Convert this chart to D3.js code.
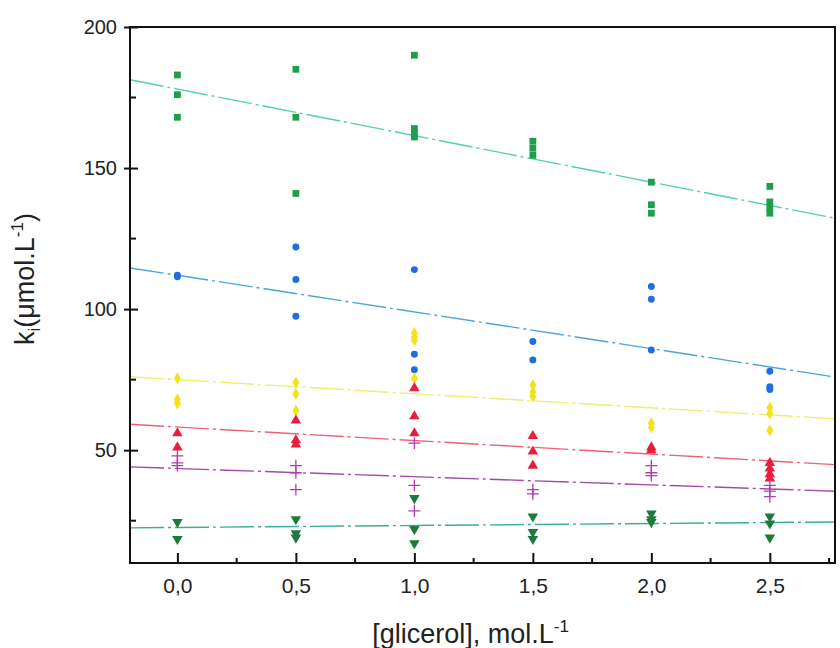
<!DOCTYPE html>
<html>
<head>
<meta charset="utf-8">
<script src="https://cdn.jsdelivr.net/npm/d3@7"></script>
<style>
  body { margin: 0; background: #fff; }
  svg { display: block; font-family: "Liberation Sans", Arial, sans-serif; }
</style>
</head>
<body>
<div id="chart"></div>
<script>
// glycerol concentrations (mol/L)
const xLevels = [0, 0.5, 1.0, 1.5, 2.0, 2.5];
const xTicks = [0, 0.5, 1.0, 1.5, 2.0, 2.5];
const xTickLabels = ["0,0", "0,5", "1,0", "1,5", "2,0", "2,5"];
const yTicks = [50, 100, 150, 200];

// ki values per glycerol level, one list per series
const squareValues = [[183, 176, 168], [185, 168, 141], [190, 164, 162, 161], [159.5, 157, 154.5], [145, 137, 134], [143.5, 138, 136, 134]];
const circleValues = [[112, 111.5], [122, 110.5, 97.5], [114, 84, 78.5], [88.5, 82], [108, 103.5, 85.5], [78, 72.5, 71.5]];
const diamondValues = [[75.5, 68, 66.5], [74, 70, 64], [91.5, 90, 89, 75.5], [73, 70.5, 69], [59.5, 58], [65, 63, 57]];
const triangleValues = [[56, 51], [60.5, 53.5, 52], [72, 62, 56], [55, 49.5, 44.5], [51, 50], [45.5, 43.5, 41.5, 40]];
const plusValues = [[48, 45.5, 44.5], [44.5, 42, 36], [52.5, 37.5, 28.5], [36, 34.5], [44.5, 42, 41], [37.5, 35.5, 33.5]];
const downValues = [[24.5, 18.5], [25.5, 20.5, 19], [33, 22, 17], [26.5, 21, 18.5], [27.5, 25.5, 24.5], [26.5, 24, 19]];

// fitted lines: [intercept, slope]
const squareFit = [178, -16.5];
const circleFit = [112, -13];
const diamondFit = [75, -5];
const triangleFit = [58.2, -4.8];
const plusFit = [43.5, -2.9];
const downFit = [22.6, 0.7];

const width = 840, height = 648;
const margin = {top: 27, right: 5, bottom: 85, left: 130};

const x = d3.scaleLinear()
  .domain([-0.2, 2.775])
  .range([margin.left, width - margin.right]);
const y = d3.scaleLinear()
  .domain([10, 200])
  .range([height - margin.bottom, margin.top]);

const svg = d3.select("#chart").append("svg")
  .attr("width", width)
  .attr("height", height);

svg.append("clipPath").attr("id", "plot-clip")
  .append("rect")
  .attr("x", margin.left).attr("y", margin.top)
  .attr("width", width - margin.left - margin.right)
  .attr("height", height - margin.top - margin.bottom);

const series = [
  {values: squareValues, fit: squareFit, type: d3.symbolSquare, size: 46, color: "#1f9e4e", line: "#52d2a6"},
  {values: circleValues, fit: circleFit, type: d3.symbolCircle, size: 38, color: "#1f6ee0", line: "#4aa6da"},
  {values: diamondValues, fit: diamondFit, type: d3.symbolDiamond, size: 42, color: "#f3e21c", line: "#eeee70"},
  {values: triangleValues, fit: triangleFit, type: d3.symbolTriangle, size: 48, color: "#e81e3e", line: "#ee6078"},
  {values: plusValues, fit: plusFit, type: d3.symbolPlus || d3.symbolCross, size: 48, color: "#b03cb0", line: "#a04ca6", stroke: true},
  {values: downValues, fit: downFit, type: d3.symbolTriangle, size: 48, color: "#1e7a3c", line: "#3aae98", rotate: 180}
];

// fit lines
const fitG = svg.append("g").attr("clip-path", "url(#plot-clip)");
const line = d3.line().x(d => x(d[0])).y(d => y(d[1]));
series.forEach(s => {
  const pts = x.domain().map(v => [v, s.fit[0] + s.fit[1] * v]);
  fitG.append("path")
    .datum(pts)
    .attr("fill", "none")
    .attr("stroke", s.line)
    .attr("stroke-width", 1.4)
    .attr("stroke-dasharray", "34,4,3,4")
    .attr("d", line);
});

// markers
const markG = svg.append("g");
series.forEach(s => {
  const pts = [];
  s.values.forEach((vals, i) => vals.forEach(v => pts.push([xLevels[i], v])));
  markG.append("g").selectAll("path")
    .data(pts)
    .join("path")
    .attr("transform", d => `translate(${x(d[0])},${y(d[1])})` + (s.rotate ? ` rotate(${s.rotate})` : ""))
    .attr("d", d3.symbol().type(s.type).size(s.size))
    .attr("fill", s.stroke ? "none" : s.color)
    .attr("stroke", s.stroke ? s.color : "none")
    .attr("stroke-width", 1.3);
});

// frame
svg.append("rect")
  .attr("x", margin.left).attr("y", margin.top)
  .attr("width", width - margin.left - margin.right)
  .attr("height", height - margin.top - margin.bottom)
  .attr("fill", "none")
  .attr("stroke", "#111")
  .attr("stroke-width", 2);

// x axis, ticks pointing inward
const xAxis = svg.append("g")
  .attr("transform", `translate(0,${height - margin.bottom})`)
  .call(d3.axisBottom(x).tickValues(xTicks).tickSize(-10).tickSizeOuter(0)
    .tickFormat((d, i) => xTickLabels[i]));
xAxis.select(".domain").remove();
xAxis.selectAll(".tick line").attr("stroke", "#111").attr("stroke-width", 2);
xAxis.selectAll(".tick text")
  .attr("y", 30)
  .attr("dy", 0)
  .attr("fill", "#222")
  .attr("font-size", 21);

svg.append("g")
  .attr("transform", `translate(0,${height - margin.bottom})`)
  .selectAll("line")
  .data(d3.range(-0.25, 2.76, 0.5).filter(v => v > x.domain()[0]))
  .join("line")
  .attr("x1", d => x(d)).attr("x2", d => x(d))
  .attr("y1", 0).attr("y2", -5)
  .attr("stroke", "#111").attr("stroke-width", 2);

// y axis
const yAxis = svg.append("g")
  .attr("transform", `translate(${margin.left},0)`)
  .call(d3.axisLeft(y).tickValues(yTicks).tickSize(6).tickSizeOuter(0).tickFormat(d3.format("d")));
yAxis.select(".domain").remove();
yAxis.selectAll(".tick line").attr("stroke", "#111").attr("stroke-width", 2).attr("x2", 8).attr("x1", -6);
yAxis.selectAll(".tick text")
  .attr("x", -13)
  .attr("fill", "#222")
  .attr("font-size", 20);

svg.append("g")
  .selectAll("line")
  .data([25, 75, 125, 175])
  .join("line")
  .attr("x1", margin.left).attr("x2", margin.left + 6)
  .attr("y1", d => y(d)).attr("y2", d => y(d))
  .attr("stroke", "#111").attr("stroke-width", 2);

// axis titles
const xTitle = svg.append("text")
  .attr("x", (x(0) + x(2.5)) / 2 - 3)
  .attr("y", 643)
  .attr("text-anchor", "middle")
  .attr("font-size", 27)
  .attr("fill", "#222");
xTitle.append("tspan").text("[glicerol], mol.L");
xTitle.append("tspan").attr("font-size", 17).attr("dy", -11).text("-1");

const yTitle = svg.append("text")
  .attr("transform", "translate(34,279) rotate(-90)")
  .attr("text-anchor", "middle")
  .attr("font-size", 27)
  .attr("fill", "#222");
yTitle.append("tspan").text("k");
yTitle.append("tspan").attr("font-size", 17).attr("dy", 6).text("i");
yTitle.append("tspan").attr("dy", -6).text("(\u03bcmol.L");
yTitle.append("tspan").attr("font-size", 17).attr("dy", -11).text("-1");
yTitle.append("tspan").attr("dy", 11).text(")");
</script>
</body>
</html>
